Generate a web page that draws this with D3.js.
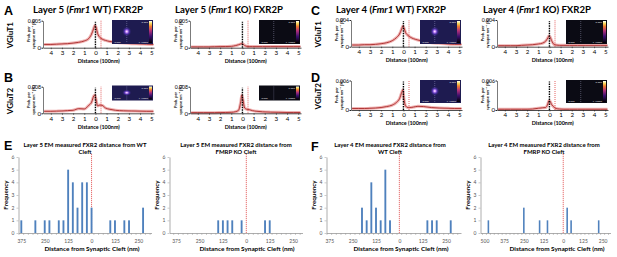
<!DOCTYPE html>
<html>
<head>
<meta charset="utf-8">
<script src="https://cdn.jsdelivr.net/npm/d3@7"></script>
<style>
body{margin:0;background:#fff;}
svg text{font-family:Lato,"Open Sans",sans-serif;fill:#000;}
</style>
</head>
<body>
<svg id="fig" width="617" height="257"></svg>
<script>
// distance from cleft (100 nm)
var distance = [-4.6,-4,-3.5,-3,-2.5,-2,-1.5,-1,-0.6,-0.35,-0.15,-0.05,0.05,0.2,0.4,0.6,0.9,1.3,1.8,2.5,3.2,4,4.6,5.2];
var distTicks = [-4,-3,-2,-1,0,1,2,3,4,5];

// prob. per synapse nm^3, in units of 0.001 %
var l5WtVglut1 = [0.6,0.6,0.65,0.7,0.75,0.85,1.0,1.25,1.7,2.5,3.6,4.1,3.8,2.6,1.9,1.6,1.35,1.15,1.0,0.85,0.75,0.7,0.65,0.6];
var l5KoVglut1 = [0.15,0.15,0.15,0.15,0.18,0.2,0.22,0.25,0.4,0.55,0.7,0.75,0.7,0.4,0.25,0.2,0.2,0.2,0.2,0.2,0.2,0.2,0.2,0.2];
var l5WtVglut2 = [0.6,0.6,0.65,0.7,0.8,0.9,1.4,1.3,2.4,3.3,5.2,5.5,4.2,2.2,2.5,2.4,1.6,1.2,0.9,0.75,0.7,0.65,0.6,0.6];
var l5KoVglut2 = [0.2,0.2,0.2,0.2,0.2,0.22,0.25,0.3,0.5,0.9,3.5,5.5,4.0,1.6,1.2,1.1,0.8,0.6,0.45,0.35,0.3,0.25,0.25,0.25];
var l4WtVglut1 = [0.25,0.25,0.3,0.3,0.35,0.45,0.6,0.9,1.4,1.9,2.7,3.1,2.8,2.1,1.7,1.45,1.2,1.0,0.8,0.6,0.5,0.4,0.35,0.35];
var l4KoVglut1 = [0.15,0.15,0.15,0.15,0.2,0.25,0.3,0.4,0.55,0.8,1.3,1.6,1.5,0.9,0.35,0.25,0.2,0.2,0.2,0.2,0.2,0.2,0.2,0.2];
var l4WtVglut2 = [0.3,0.3,0.3,0.35,0.4,0.5,0.7,1.0,1.6,2.3,3.6,4.1,2.2,0.8,0.5,0.5,0.6,0.75,0.7,0.5,0.4,0.35,0.3,0.3];
var l4KoVglut2 = [0.15,0.15,0.15,0.15,0.15,0.15,0.2,0.35,0.45,0.5,1.2,1.9,1.8,1.1,0.6,0.3,0.2,0.15,0.15,0.15,0.15,0.15,0.15,0.15];

// EM histograms: bin centre (nm) and frequency
var l5WtBins = [-375,-300,-250,-225,-175,-150,-125,-100,-75,-50,-25,0,100,125,175,200,275];
var l5WtFreq = [1,1,1,1,1,1,5,4,2,4,4,2,1,1,1,1,2];
var l5KoBins = [-150,-125,-100,-75,-25,100,125];
var l5KoFreq = [1,1,1,1,1,1,1];
var l4WtBins = [-200,-175,-150,-125,-100,-75,-50,150,175,200,275];
var l4WtFreq = [2,1,4,2,1,5,1,1,1,1,1];
var l4KoBins = [-475,-250,-150,-100,25,50,225];
var l4KoFreq = [1,2,1,1,2,1,1];
var histTicks = [-375,-250,-125,0,125,250];
var histTicksWide = [-500,-375,-250,-125,0,125,250];
var freqTicks = [0,1,2,3,4,5,6];

var svg = d3.select("#fig");
var defs = svg.append("defs");
var cb = defs.append("linearGradient").attr("id","cbar").attr("x1",0).attr("y1",1).attr("x2",0).attr("y2",0);
[["0%","#000"],["30%","#3a0f6e"],["55%","#b0307a"],["75%","#f07a30"],["90%","#f8e060"],["100%","#ffffff"]].forEach(function(s){
	cb.append("stop").attr("offset",s[0]).attr("stop-color",s[1]);
});
var spot = defs.append("radialGradient").attr("id","spot");
[["0%","#ffffff",1],["20%","#d090ff",1],["50%","#5a38c0",0.8],["100%","#1c1a4c",0]].forEach(function(s){
	spot.append("stop").attr("offset",s[0]).attr("stop-color",s[1]).attr("stop-opacity",s[2]);
});

function inset(x0, y0, w, h, wt){
	var g = svg.append("g");
	g.append("rect").attr("x",x0).attr("y",y0).attr("width",w).attr("height",h)
		.attr("fill", wt ? "#1e1b50" : "#0b0b14");
	g.append("line").attr("x1",x0+w*0.36).attr("x2",x0+w*0.36).attr("y1",y0+1).attr("y2",y0+h-1)
		.attr("stroke","#c8c8f0").attr("stroke-width",0.5).attr("stroke-dasharray","1,1").attr("opacity",0.7);
	if(wt){
		g.append("ellipse").attr("cx",x0+w*0.36).attr("cy",y0+h*0.48).attr("rx",w*0.12).attr("ry",h*0.22)
			.attr("fill","url(#spot)");
	}
	g.append("rect").attr("x",x0+w-4).attr("y",y0+1).attr("width",3).attr("height",h-2).attr("fill","url(#cbar)");
	g.append("text").attr("x",x0+w-5).attr("y",y0+3).attr("text-anchor","end").attr("font-size",2.5)
		.style("fill","#ddd").text("0.005");
	g.append("text").attr("x",x0+1.5).attr("y",y0+h-1.5).attr("font-size",2.5).style("fill","#ddd").text("-0.005");
	g.append("text").attr("x",x0+w-5).attr("y",y0+h-1.5).attr("text-anchor","end").attr("font-size",2.5)
		.style("fill","#ddd").text("x 10000");
}

function densityPanel(p){
	var x = d3.scaleLinear().domain([-4.7, 5.25]).range([p.left, p.left + 111]);
	var y = d3.scaleLinear().domain([0, p.ymax * 1000]).range([p.zero, p.top]);
	var g = svg.append("g");

	inset(p.left + 69, p.insetTop, 41, p.insetH, p.wt);

	var line = d3.line().curve(d3.curveMonotoneX)
		.x(function(d, i){ return x(distance[i]); })
		.y(function(d){ return y(d); });
	g.append("path").datum(p.values).attr("d", line)
		.attr("fill","none").attr("stroke","#f0b4b4").attr("stroke-width",3);
	g.append("path").datum(p.values).attr("d", line)
		.attr("fill","none").attr("stroke","#a82828").attr("stroke-width",0.9);

	// cleft markers
	g.append("line").attr("x1",x(0)).attr("x2",x(0)).attr("y1",p.zero).attr("y2",p.top+1)
		.attr("stroke","#000").attr("stroke-width",1.4).attr("stroke-dasharray","1.5,1");
	g.append("line").attr("x1",x(0.5)).attr("x2",x(0.5)).attr("y1",p.zero).attr("y2",p.top)
		.attr("stroke","#e05050").attr("stroke-width",0.9).attr("stroke-dasharray","1,1");

	var xa = g.append("g").attr("transform","translate(0," + p.zero + ")")
		.call(d3.axisBottom(x).tickValues(distTicks).tickSize(1.5).tickSizeOuter(0)
			.tickFormat(function(d){ return Math.abs(d); }));
	xa.select(".domain").attr("stroke","#222").attr("stroke-width",0.8);
	xa.selectAll(".tick line").attr("stroke","#222").attr("stroke-width",0.6);
	xa.selectAll(".tick text").attr("y",3).attr("font-size",6.2).style("font-family","Lato,sans-serif");

	var ya = g.append("g").attr("transform","translate(" + p.left + ",0)")
		.call(d3.axisLeft(y).tickValues([0, p.ymax * 1000]).tickSize(1.5).tickSizeOuter(0)
			.tickFormat(function(d){ return d === 0 ? "0" : (d / 1000).toString(); }));
	ya.select(".domain").attr("stroke","#222").attr("stroke-width",0.6);
	ya.selectAll(".tick line").attr("stroke","#222");
	ya.selectAll(".tick text").attr("x",-2).attr("font-size",5.2).style("font-family","Lato,sans-serif");
	ya.selectAll(".tick").filter(function(d){ return d === 0; }).select("text").attr("font-size",6.2);

	g.append("text").attr("x", x(0.3)).attr("y", p.zero + 15.2).attr("text-anchor","middle")
		.attr("font-size",5.4).attr("font-weight","bold").text("Distance (100nm)");

	var cy = (p.zero + p.top) / 2;
	g.append("text").attr("transform","translate(" + (p.left - 13.5) + "," + cy + ") rotate(-90)")
		.attr("text-anchor","middle").attr("font-size",3.9).attr("font-weight","bold").text("Prob. per");
	g.append("text").attr("transform","translate(" + (p.left - 8.5) + "," + cy + ") rotate(-90)")
		.attr("text-anchor","middle").attr("font-size",3.9).attr("font-weight","bold").text("synapse nm\u207B\u00B3 [%]");
	if(p.label){
		g.append("text").attr("transform","translate(" + (p.left - 30) + "," + (cy + 1) + ") rotate(-90)")
			.attr("text-anchor","middle").attr("font-size",8).attr("font-weight","bold").text(p.label);
	}
}

function histPanel(p){
	var x = d3.scaleLinear().domain(p.domain).range(p.range);
	var y = d3.scaleLinear().domain([0, 6]).range([233, 157]);
	var g = svg.append("g");
	var bw = 25 * (p.range[1] - p.range[0]) / (p.domain[1] - p.domain[0]) * 0.4;

	var minor = d3.range(Math.ceil((p.domain[0] - 12.5) / 25) * 25 + 12.5, p.domain[1], 25);
	g.selectAll("line.minor").data(minor).enter().append("line")
		.attr("x1", function(d){ return x(d); }).attr("x2", function(d){ return x(d); })
		.attr("y1", 233).attr("y2", 235).attr("stroke","#999").attr("stroke-width",0.5);

	var xa = g.append("g").attr("transform","translate(0,233)")
		.call(d3.axisBottom(x).tickValues(p.ticks).tickSize(0).tickSizeOuter(0)
			.tickFormat(function(d){ return Math.abs(d); }));
	xa.select(".domain").attr("stroke","#999").attr("stroke-width",0.8);
	xa.selectAll(".tick text").attr("y",6).attr("font-size",5).style("fill","#555").style("font-family","Lato,sans-serif");

	var ya = g.append("g").attr("transform","translate(" + p.range[0] + ",0)")
		.call(d3.axisLeft(y).tickValues(freqTicks).tickSize(2).tickSizeOuter(0).tickFormat(d3.format("d")));
	ya.select(".domain").attr("stroke","#999").attr("stroke-width",0.8);
	ya.selectAll(".tick line").attr("stroke","#999").attr("stroke-width",0.5);
	ya.selectAll(".tick text").attr("x",-4).attr("font-size",5).style("fill","#555").style("font-family","Lato,sans-serif");

	g.append("line").attr("x1",x(0)).attr("x2",x(0)).attr("y1",233).attr("y2",153)
		.attr("stroke","#e04848").attr("stroke-width",0.8).attr("stroke-dasharray","1.2,0.8");

	g.selectAll("rect.bar").data(p.bins).enter().append("rect")
		.attr("x", function(d){ return x(d) - bw / 2; })
		.attr("y", function(d, i){ return y(p.freq[i]); })
		.attr("width", bw)
		.attr("height", function(d, i){ return 233 - y(p.freq[i]); })
		.attr("fill","#4f81bd");

	g.append("text").attr("x", p.labelX).attr("y", 251).attr("text-anchor","middle")
		.attr("font-size",6.4).attr("font-weight","bold").text("Distance from Synaptic Cleft (nm)");
	g.append("text").attr("transform","translate(" + (p.range[0] - 11) + ",195) rotate(-90)")
		.attr("text-anchor","middle").attr("font-size",6.3).attr("font-weight","bold").text("Frequency");
	p.title.forEach(function(t, i){
		g.append("text").attr("x", p.titleX).attr("y", 147 + i * 6.5).attr("text-anchor","middle")
			.attr("font-size",6).attr("font-weight","bold").text(t);
	});
}

// letters and row titles
[["A",4,15],["B",4,82],["C",311,15],["D",311,82],["E",4,150],["F",311,151]].forEach(function(l){
	svg.append("text").attr("x",l[1]).attr("y",l[2]).attr("font-size",12.5).attr("font-weight","bold")
		.style("font-family","'Liberation Sans',Arial,sans-serif").text(l[0]);
});
[["Layer 5 (","Fmr1"," WT) FXR2P",88],["Layer 5 (","Fmr1"," KO) FXR2P",229],
 ["Layer 4 (","Fmr1"," WT) FXR2P",391],["Layer 4 (","Fmr1"," KO) FXR2P",537]].forEach(function(t){
	var tx = svg.append("text").attr("x",t[3]).attr("y",13).attr("text-anchor","middle")
		.attr("font-size",9.6).attr("font-weight","bold");
	tx.append("tspan").text(t[0]);
	tx.append("tspan").attr("font-style","italic").text(t[1]);
	tx.append("tspan").text(t[2]);
});

densityPanel({left:43, top:20.7, zero:47.7, ymax:0.005, values:l5WtVglut1, wt:true, label:"VGluT1", insetTop:20, insetH:24});
densityPanel({left:190, top:20.7, zero:47.7, ymax:0.005, values:l5KoVglut1, wt:false, insetTop:20, insetH:24});
densityPanel({left:351, top:20, zero:46.7, ymax:0.004, values:l4WtVglut1, wt:true, label:"VGluT1", insetTop:20, insetH:24});
densityPanel({left:497, top:20, zero:46.7, ymax:0.004, values:l4KoVglut1, wt:false, insetTop:20, insetH:24});
densityPanel({left:43, top:86.7, zero:113.3, ymax:0.008, values:l5WtVglut2, wt:true, label:"VGluT2", insetTop:85.5, insetH:15});
densityPanel({left:190, top:86.7, zero:113.3, ymax:0.008, values:l5KoVglut2, wt:false, insetTop:85.5, insetH:15});
densityPanel({left:351, top:80.5, zero:110, ymax:0.006, values:l4WtVglut2, wt:true, label:"VGluT2", insetTop:80, insetH:23});
densityPanel({left:497, top:80.5, zero:110, ymax:0.006, values:l4KoVglut2, wt:false, insetTop:80, insetH:23});

histPanel({domain:[-390,320], range:[18.5,151.5], bins:l5WtBins, freq:l5WtFreq, ticks:histTicks, labelX:92, titleX:85,
	title:["Layer 5 EM measured FXR2 distance from WT","Cleft"]});
histPanel({domain:[-410,300], range:[169.5,302.5], bins:l5KoBins, freq:l5KoFreq, ticks:histTicks, labelX:247, titleX:236,
	title:["Layer 5 EM measured FXR2 distance from","FMRP KO Cleft"]});
histPanel({domain:[-390,330], range:[326.5,461], bins:l4WtBins, freq:l4WtFreq, ticks:histTicks, labelX:401, titleX:390,
	title:["Layer 4 EM measured FXR2 distance from","WT Cleft"]});
histPanel({domain:[-525,300], range:[480.5,610.5], bins:l4KoBins, freq:l4KoFreq, ticks:histTicksWide, labelX:557, titleX:544,
	title:["Layer 4 EM measured FXR2 distance from","FMRP KO Cleft"]});
</script>
</body>
</html>
